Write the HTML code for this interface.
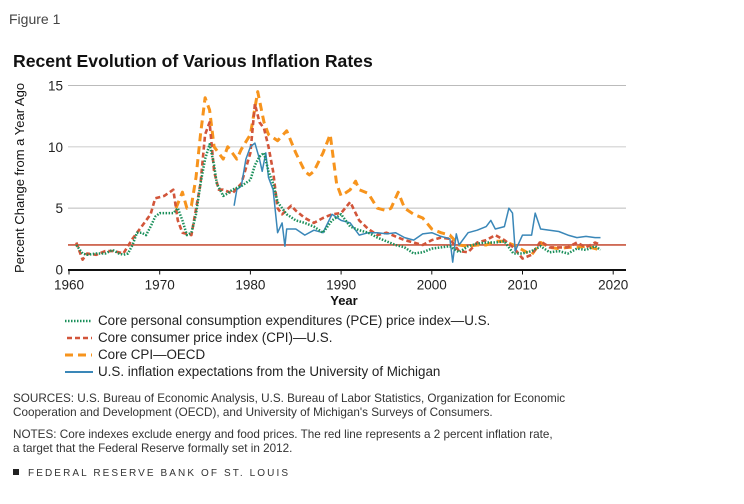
<!DOCTYPE html>
<html><head><meta charset="utf-8"><style>
body{margin:0;background:#fff;width:744px;height:499px;overflow:hidden;font-family:"Liberation Sans",sans-serif;}
svg text{font-family:"Liberation Sans",sans-serif;}
</style></head><body>
<svg id="chart" width="744" height="499" viewBox="0 0 744 499">
<text x="9" y="24" font-size="14" fill="#444">Figure 1</text>
<text x="13" y="67" font-size="17.6" font-weight="bold" fill="#111">Recent Evolution of Various Inflation Rates</text>
<text transform="translate(24,178) rotate(-90)" text-anchor="middle" font-size="13" fill="#111">Percent Change from a Year Ago</text>
<text x="344" y="305" text-anchor="middle" font-size="13" font-weight="bold" fill="#111">Year</text>
<g id="grid"></g><g id="series"></g><g id="axes"></g>
<g font-size="13.4" fill="#222">
<line x1="65" y1="321" x2="92" y2="321" stroke="#1a8f5a" stroke-width="2.5" stroke-dasharray="1.5 1.5"/>
<text x="98" y="325">Core personal consumption expenditures (PCE) price index—U.S.</text>
<line x1="67" y1="338" x2="92" y2="338" stroke="#d2553a" stroke-width="2.5" stroke-dasharray="5 3"/>
<text x="98" y="342">Core consumer price index (CPI)—U.S.</text>
<line x1="65" y1="355" x2="92" y2="355" stroke="#f7941d" stroke-width="3" stroke-dasharray="8 5"/>
<text x="98" y="359">Core CPI—OECD</text>
<line x1="65" y1="372" x2="93" y2="372" stroke="#3a87b8" stroke-width="2"/>
<text x="98" y="376">U.S. inflation expectations from the University of Michigan</text>
</g>
<g font-size="11.7" fill="#333">
<text x="13" y="402">SOURCES: U.S. Bureau of Economic Analysis, U.S. Bureau of Labor Statistics, Organization for Economic</text>
<text x="13" y="416">Cooperation and Development (OECD), and University of Michigan's Surveys of Consumers.</text>
<text x="13" y="438">NOTES: Core indexes exclude energy and food prices. The red line represents a 2 percent inflation rate,</text>
<text x="13" y="452">a target that the Federal Reserve formally set in 2012.</text>
<rect x="13" y="469" width="6" height="6" fill="#222"/>
<text x="28" y="476" font-size="10" letter-spacing="2.1">FEDERAL RESERVE BANK OF ST. LOUIS</text>
</g>
</svg>
<script>
const yTicks=[0,5,10,15];
const xTicks=[1960,1970,1980,1990,2000,2010,2020];
const target=2;
const pceX=[1960.8,1961.5,1962,1963,1964,1964.8,1965.5,1966,1966.5,1967,1967.5,1968,1968.5,1969,1969.5,1970,1971,1971.5,1972,1972.5,1973,1973.5,1974,1974.5,1975,1975.5,1976,1976.3,1977,1977.5,1978,1979,1980,1980.5,1981,1981.5,1982,1982.5,1983,1983.5,1984,1985,1986,1987,1988,1989,1990,1991,1992,1993,1994,1995,1996,1997,1998,1999,2000,2001,2002,2003,2004,2005,2006,2007,2008,2009,2010,2011,2012,2013,2014,2015,2016,2017,2018,2018.6];
const pceY=[2.0,1.3,1.2,1.3,1.3,1.6,1.3,1.2,1.3,2.0,3.0,3.0,2.8,3.5,4.3,4.6,4.6,4.6,5.0,4.0,2.8,3.0,4.5,7.0,9.0,10.2,8.5,7.0,6.0,6.2,6.5,6.8,7.3,8.5,9.2,9.5,8.0,7.0,5.5,5.0,4.5,4.0,3.8,3.5,3.0,4.0,4.5,3.5,3.2,3.0,2.6,2.3,2.0,1.8,1.3,1.4,1.7,1.8,1.9,1.4,1.9,2.1,2.2,2.2,2.3,1.3,1.3,1.5,1.9,1.4,1.5,1.3,1.7,1.6,1.9,1.6];
const cpiX=[1960.8,1961.5,1962,1963,1964,1965,1966,1967,1968,1969,1969.5,1970.5,1971.5,1972,1972.5,1973.5,1974.5,1975,1975.5,1976,1976.5,1977,1978,1979,1980,1980.5,1981,1981.5,1982,1982.5,1983,1983.5,1984.5,1985,1986,1987,1988,1989,1990,1991,1992,1993,1994,1995,1996,1997,1998,1999,2000,2001,2002,2003,2004,2005,2006,2007,2008,2009,2010,2011,2012,2013,2014,2015,2016,2017,2018,2018.6];
const cpiY=[2.2,0.8,1.3,1.2,1.5,1.5,1.3,2.5,3.5,4.5,5.8,6.0,6.5,4.0,3.0,2.8,7.0,11.0,12.0,8.0,6.5,6.5,6.2,7.0,9.5,13.5,12.0,11.5,10.0,8.0,5.0,4.5,5.2,4.8,4.2,3.8,4.2,4.5,4.6,5.5,4.0,3.3,2.8,3.0,2.7,2.4,2.2,2.0,2.4,2.6,2.5,1.5,1.4,2.2,2.4,2.8,2.4,1.8,0.9,1.2,2.3,1.8,1.8,1.8,2.2,1.8,2.2,2.0];
const oecdX=[1971.8,1972.5,1973,1973.5,1974,1974.5,1975,1975.5,1976,1977,1977.5,1978,1978.5,1979,1980,1980.8,1981.5,1982,1983,1984,1985,1986,1986.5,1987,1988,1988.8,1989.5,1990,1991,1991.6,1992,1993,1994,1995,1995.5,1996.3,1997,1998,1999,2000,2001,2002,2003,2004,2005,2006,2007,2008,2009,2010,2011,2012,2013,2014,2015,2016,2017,2018,2018.6];
const oecdY=[5.0,6.3,5.0,5.2,7.5,11.0,14.0,13.0,10.0,9.0,10.0,9.5,9.0,9.8,11.0,14.5,12.0,11.0,10.5,11.3,9.5,8.0,7.7,8.0,9.5,11.0,7.0,6.0,6.5,7.2,6.5,6.2,5.0,4.8,5.0,6.3,5.0,4.5,4.2,3.3,3.0,2.8,2.0,1.9,2.0,2.0,2.3,2.3,2.0,1.6,1.2,2.2,1.8,1.7,1.8,1.8,1.9,1.7,1.6];
const michX=[1978.2,1978.5,1979,1979.5,1980,1980.5,1981,1981.3,1981.7,1982,1982.5,1983,1983.5,1983.8,1984,1985,1986,1987,1988,1989,1990,1991,1992,1993,1994,1995,1996,1997,1998,1999,2000,2001,2002,2002.3,2002.7,2003,2004,2005,2006,2006.5,2007,2008,2008.5,2008.9,2009.2,2010,2011,2011.4,2012,2013,2014,2015,2016,2017,2018,2018.6];
const michY=[5.2,6.5,6.8,9.0,10.0,10.3,9.0,8.0,9.5,7.5,6.5,3.0,3.8,1.9,3.3,3.3,2.8,3.2,3.0,4.5,4.0,3.8,2.8,3.0,3.0,2.9,3.0,2.6,2.4,2.9,3.0,2.7,2.5,0.6,2.9,2.0,3.0,3.2,3.5,4.0,3.3,3.5,5.0,4.6,1.5,2.8,2.8,4.6,3.3,3.2,3.1,2.8,2.6,2.7,2.6,2.6];

const L=68,R=626;
const X=v=>69+(v-1960)*9.07;
const Y=v=>269.5-v*12.27;
const NS='http://www.w3.org/2000/svg';
function mk(tag,parent,attrs){const e=document.createElementNS(NS,tag);for(const k in attrs)e.setAttribute(k,attrs[k]);parent.appendChild(e);return e;}
const grid=document.getElementById('grid'),axes=document.getElementById('axes'),ser=document.getElementById('series');
yTicks.forEach(t=>{
 if(t>0){const g=mk('line',grid,{x1:L,x2:R,y1:Y(t),y2:Y(t),stroke:t==10?'#ddd':'#bbb','stroke-width':t==10?1.5:1});
 
 }
 const tx=mk('text',axes,{x:63,y:Y(t)+5,'text-anchor':'end','font-size':13.5,fill:'#222'});tx.textContent=t;
 
 
});
const ax=mk('line',axes,{x1:L,x2:R,y1:Y(0)+0.5,y2:Y(0)+0.5,stroke:'#111','stroke-width':2});


xTicks.forEach(t=>{
 mk('line',axes,{x1:X(t),x2:X(t),y1:Y(0),y2:Y(0)+5,stroke:'#111'});
 const tx=mk('text',axes,{x:X(t),y:Y(0)+20,'text-anchor':'middle','font-size':13.5,fill:'#222'});tx.textContent=t;
 
 
});
const tl=mk('line',ser,{x1:L,x2:R,y1:Y(target),y2:Y(target),stroke:'#c8553d','stroke-width':1.6});


function line(xs,ys,color,w,dash,name){
 const d=xs.map((x,i)=>(i?'L':'M')+X(x).toFixed(1)+','+Y(ys[i]).toFixed(1)).join('');
 const p=mk('path',ser,{d:d,fill:'none',stroke:color,'stroke-width':w,'stroke-dasharray':dash,'stroke-linejoin':'round'});
 
 
}
line(oecdX,oecdY,'#f7941d',3,'8 5','series-oecd-cpi');
line(cpiX,cpiY,'#d2553a',2.6,'5 3','series-us-cpi');
line(michX,michY,'#3a87b8',1.5,'none','series-michigan');
line(pceX,pceY,'#1a8f5a',2.5,'1.5 1.5','series-pce');
</script>
</body></html>
